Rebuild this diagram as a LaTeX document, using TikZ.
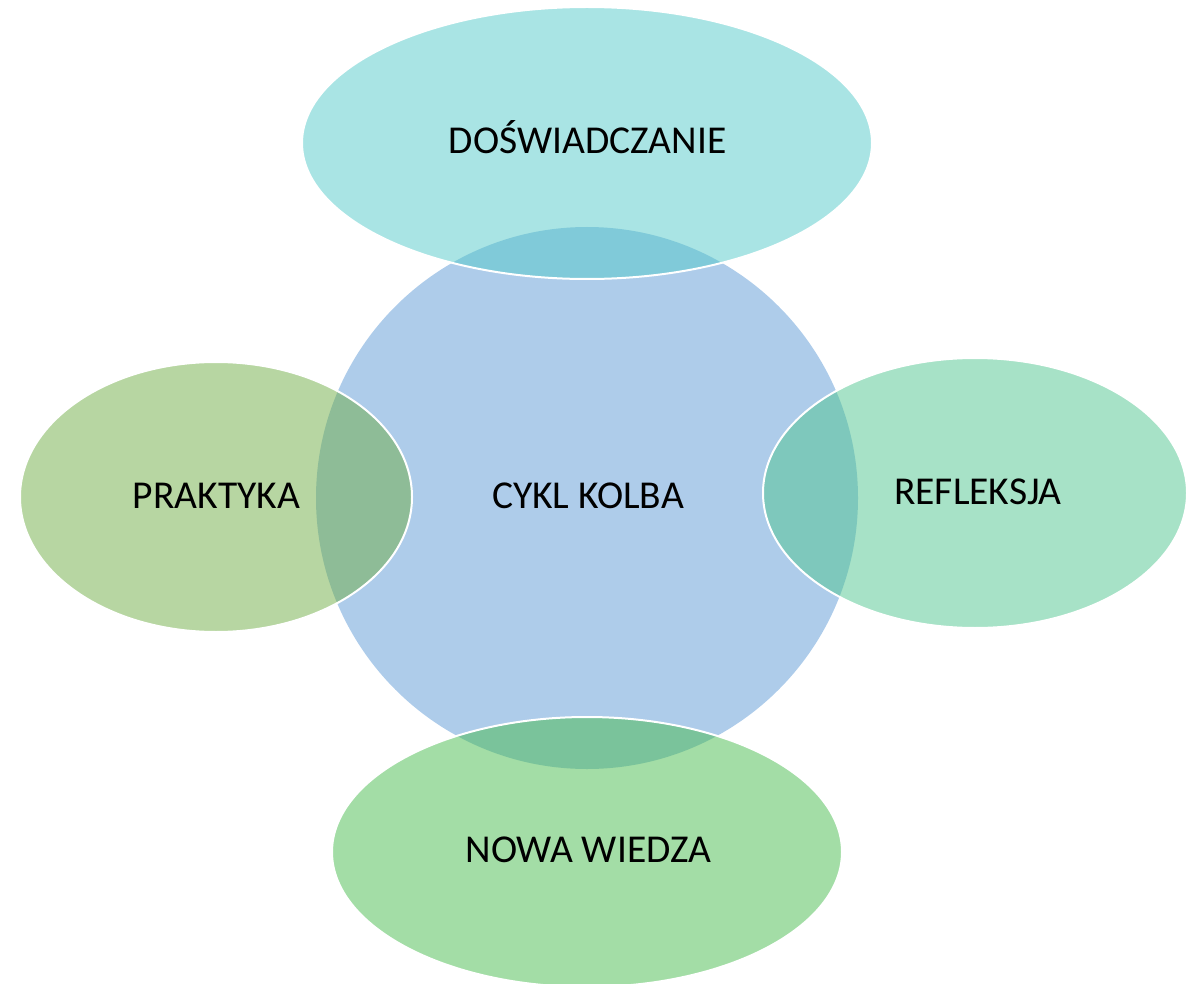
\documentclass[tikz,border=0pt]{standalone}
\usepackage{fontspec}
\setmainfont{Carlito}
\usetikzlibrary{shapes.geometric}
\definecolor{circblue}{RGB}{174,204,234}
\definecolor{ctop}{RGB}{83,201,201}
\definecolor{cleft}{RGB}{111,173,69}
\definecolor{cright}{RGB}{79,197,143}
\definecolor{cbottom}{RGB}{71,187,77}
\tikzset{
  lbl/.style={font=\fontsize{39.5}{46}\selectfont, text=black, anchor=base, inner sep=0pt},
  bubble/.style={ellipse, draw=white, line width=2pt, fill opacity=0.5, draw opacity=1, inner sep=0pt},
}
\begin{document}
\begin{tikzpicture}[x=1pt,y=-1pt]
\useasboundingbox (0,0) rectangle (1186,984);
\clip (0,0) rectangle (1186,984);
\node[circle, fill=circblue, minimum size=542pt, inner sep=0pt] (center) at (587,498) {};
\node[bubble, fill=ctop, minimum width=570pt, minimum height=272pt] (top) at (587,143) {};
\node[bubble, fill=cleft, minimum width=392pt, minimum height=270pt] (left) at (216,497) {};
\node[bubble, fill=cright, minimum width=424pt, minimum height=270pt] (right) at (975,493) {};
\node[bubble, fill=cbottom, minimum width=510pt, minimum height=270pt] (bottom) at (587,852) {};
\node[lbl] (tcenter) at (588,508) {CYKL KOLBA};
\node[lbl] (ttop) at (587.5,154) {DOŚWIADCZANIE};
\node[lbl] (tleft) at (216.5,508) {PRAKTYKA};
\node[lbl] (tright) at (978,504) {REFLEKSJA};
\node[lbl] (tbottom) at (588.5,862) {NOWA WIEDZA};
\end{tikzpicture}
\end{document}
